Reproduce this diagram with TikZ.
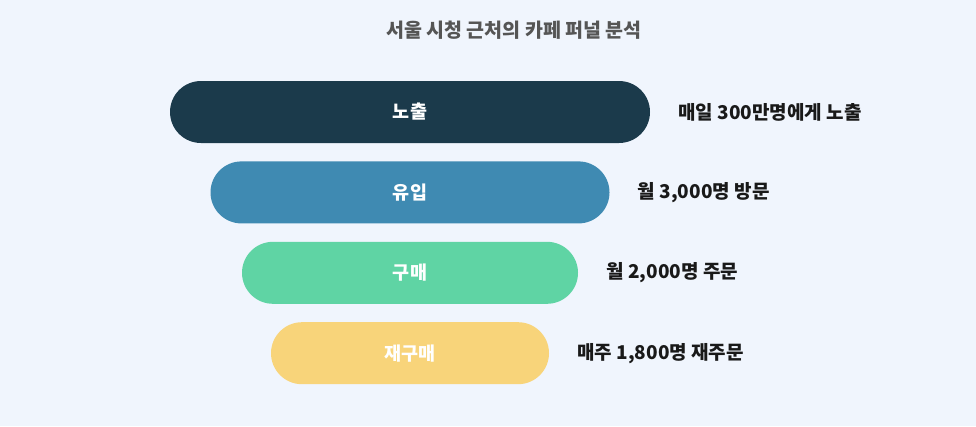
\documentclass[tikz,border=0pt]{standalone}
\usepackage{fontspec}
\setmainfont{Noto Sans CJK KR}
\usetikzlibrary{positioning,shapes.misc}
\definecolor{bgblue}{HTML}{F0F5FD}
\definecolor{titlegray}{HTML}{555555}
\definecolor{stageone}{HTML}{1B3A4B}
\definecolor{stagetwo}{HTML}{3F8AB2}
\definecolor{stagethree}{HTML}{5FD4A4}
\definecolor{stagefour}{HTML}{F8D47A}
\begin{document}
\begin{tikzpicture}
		[x=1pt,y=-1pt,
		bar/.style={rounded rectangle,minimum height=62pt,inner sep=0pt,text=white,font=\bfseries\fontsize{18.5}{22}\selectfont},
		note/.style={text=black!90,inner sep=0pt,font=\bfseries\fontsize{19}{22}\selectfont}]
		\fill[bgblue] (0,0) rectangle (976,426);
		\node[text=titlegray,font=\bfseries\fontsize{19.5}{23}\selectfont] (title) at (514,30) {서울 시청 근처의 카페 퍼널 분석};
		% funnel bars
		\node[bar,fill=stageone,minimum width=480pt] (b1) at (410,112) {노출};
		\node[bar,fill=stagetwo,minimum width=399pt,below=18pt of b1] (b2) {유입};
		\node[bar,fill=stagethree,minimum width=336pt,below=18pt of b2] (b3) {구매};
		\node[bar,fill=stagefour,minimum width=278pt,below=18pt of b3] (b4) {재구매};
		% numbers beside each bar
		\node[note,right=28pt of b1] (n1) {매일 300만명에게 노출};
		\node[note,right=28pt of b2] (n2) {월 3,000명 방문};
		\node[note,right=28pt of b3] (n3) {월 2,000명 주문};
		\node[note,right=28pt of b4] (n4) {매주 1,800명 재주문};
	\end{tikzpicture}
\end{document}
